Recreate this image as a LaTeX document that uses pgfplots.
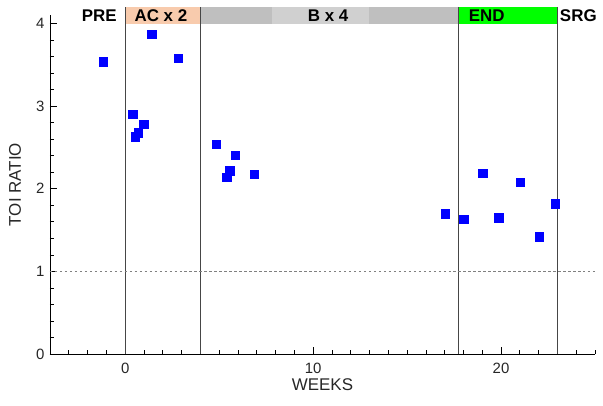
\documentclass[border=0pt]{standalone}
\usepackage{fontspec}
\setmainfont{Liberation Sans}
\usepackage{pgfplots}
\pgfplotsset{compat=1.18}
\definecolor{peach}{RGB}{248,203,173}
\definecolor{gdark}{RGB}{191,191,191}
\definecolor{glight}{RGB}{208,208,208}
\definecolor{vline}{RGB}{70,70,70}
\begin{document}
\begin{tikzpicture}
\begin{axis}[
  name=ax,
  scale only axis,
  width=545bp, height=338.7bp,
  xmin=-4, xmax=25, ymin=0, ymax=4.1,
  axis x line*=bottom, axis y line*=left,
  axis line style={-, line width=0.8pt, black},
  xtick={0,10,20}, ytick={0,1,2,3,4},
  minor xtick={-4,-3,...,25},
  minor ytick={0,0.2,...,4},
  tick align=inside,
  major tick length=7bp, minor tick length=4bp,
  tick style={black, line width=0.7pt},
  /pgf/number format/assume math mode=true,
  tick label style={font=\fontsize{15}{17}\selectfont, text=black!85},
  xticklabel style={yshift=-6bp},
  yticklabel style={xshift=-2bp},
  xlabel={WEEKS}, ylabel={TOI RATIO},
  label style={font=\fontsize{17}{19}\selectfont, text=black!85},
  xlabel style={at={(axis description cs:0.5,-0.092)}, anchor=center},
  ylabel style={at={(axis description cs:-0.064,0.5)}, anchor=center},
  clip=false,
]
% header bands
\fill[peach]  (axis cs:0,4)     rectangle (axis cs:4,4.2);
\fill[gdark]  (axis cs:4,4)     rectangle (axis cs:7.8,4.2);
\fill[glight] (axis cs:7.8,4)   rectangle (axis cs:13,4.2);
\fill[gdark]  (axis cs:13,4)    rectangle (axis cs:17.75,4.2);
\fill[green]  (axis cs:17.75,4) rectangle (axis cs:23,4.2);
\pgfplotsinvokeforeach{0,4,17.75,23}{
  \draw[vline, line width=0.7pt] (axis cs:#1,0) -- (axis cs:#1,4.2);
}
\draw[gray, line width=0.6pt, dash pattern=on 2.5pt off 2.5pt] (axis cs:-4,1) -- (axis cs:25,1);
\begin{scope}[font=\fontsize{17}{19}\selectfont\bfseries]
\node at (axis cs:-1.38,4.1) {PRE};
\node at (axis cs:1.9,4.1) {AC x 2};
\node at (axis cs:10.8,4.1) {B x 4};
\node[anchor=west] at (axis cs:18.1,4.1) {END};
\node[anchor=west] at (axis cs:22.95,4.1) {SRG};
\end{scope}
\addplot[only marks, mark=square*, mark size=4.2bp, color=blue, mark options={fill=blue, draw=blue}] coordinates {
  (-1.17,3.54)
  (1.41,3.87)
  (2.83,3.58)
  (0.39,2.90)
  (0.98,2.78)
  (0.68,2.68)
  (0.53,2.63)
  (4.84,2.54)
  (5.84,2.41)
  (5.57,2.22)
  (5.41,2.14)
  (6.85,2.18)
  (17.02,1.70)
  (18.02,1.63)
  (19.02,2.19)
  (19.87,1.65)
  (21.03,2.08)
  (22.04,1.42)
  (22.89,1.82)
};
\end{axis}
\path ([shift={(-50bp,-52bp)}]ax.south west) rectangle +(603bp,406bp);
\end{tikzpicture}
\end{document}
